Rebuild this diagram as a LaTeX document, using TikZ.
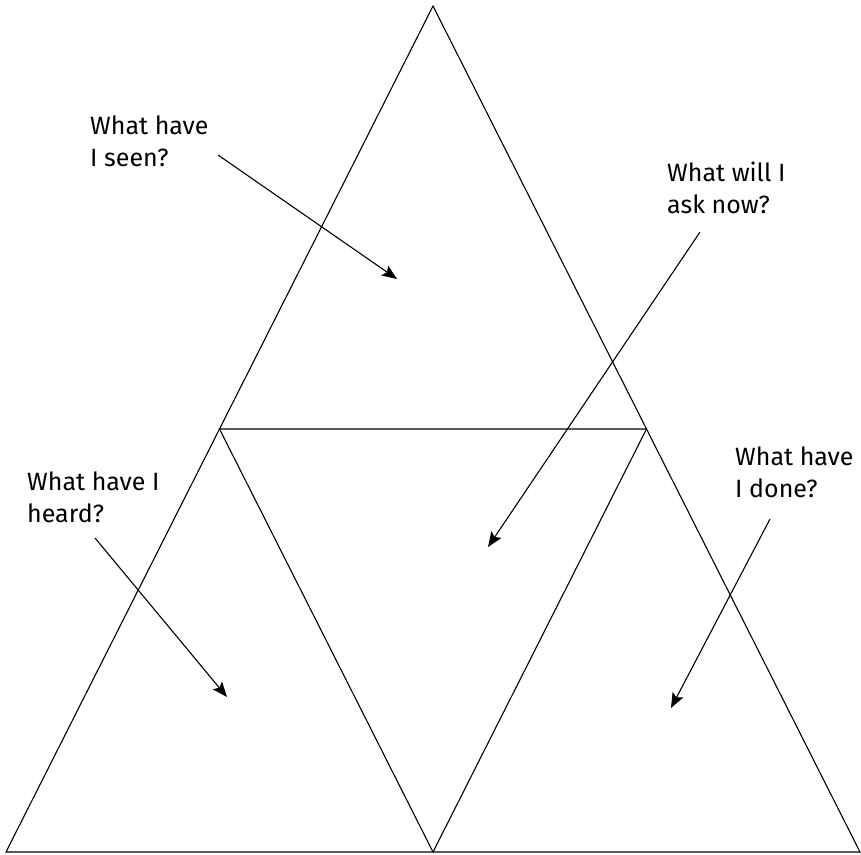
\documentclass[tikz,border=0pt]{standalone}
\usepackage{fontspec}
\setmainfont{Fira Sans}
\usepackage{tikz}
\usetikzlibrary{arrows.meta,calc}

\begin{document}
\begin{tikzpicture}[
    x=1pt, y=-1pt,
    edge/.style={line width=1.1pt},
    question/.style={anchor=base west, align=left, inner sep=0pt,
                     font=\fontsize{25}{32}\selectfont},
    arr/.style={-{Stealth[length=15pt, width=12pt, inset=3pt]}, line width=1.1pt}
]
\useasboundingbox (0,0) rectangle (861,854);

% Outer triangle and inner one
\coordinate (top) at (433, 6);
\coordinate (left) at (6, 852);
\coordinate (right) at (860, 852);
\coordinate (midleft) at ($(top)!0.5!(left)$);
\coordinate (midright) at ($(top)!0.5!(right)$);
\coordinate (midbottom) at ($(left)!0.5!(right)$);

\draw[edge] (top) -- (left) -- (right) -- cycle;
\draw[edge] (midleft) -- (midright) -- (midbottom) -- cycle;

% Questions (anchored on the baseline of the last line)
\node[question] (seen) at (90, 166) {What have\\I seen?};
\node[question] (ask) at (667, 213) {What will I\\ask now?};
\node[question] (heard) at (27, 522) {What have I\\heard?};
\node[question] (done) at (735, 497) {What have\\I done?};

% Arrow ends
\coordinate (seen_from) at (218, 155);
\coordinate (seen_to) at (397, 279);
\coordinate (ask_from) at (700, 232);
\coordinate (ask_to) at (488, 547);
\coordinate (heard_from) at (95, 538);
\coordinate (heard_to) at (227, 697);
\coordinate (done_from) at (770, 519);
\coordinate (done_to) at (671, 708);

\draw[arr] (seen_from) -- (seen_to);
\draw[arr] (ask_from) -- (ask_to);
\draw[arr] (heard_from) -- (heard_to);
\draw[arr] (done_from) -- (done_to);

\end{tikzpicture}
\end{document}
